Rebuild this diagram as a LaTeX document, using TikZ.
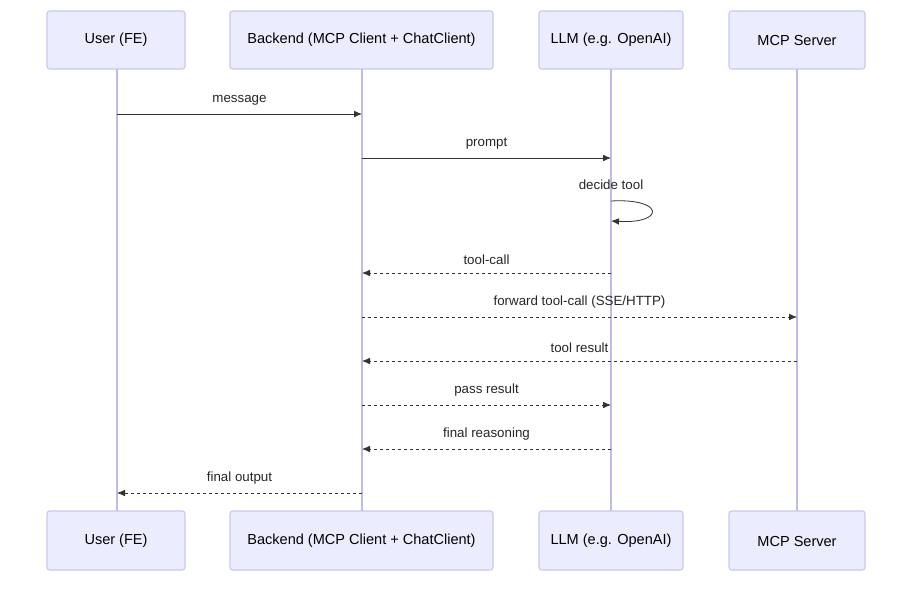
\documentclass[tikz,border=0pt]{standalone}
\usepackage{fontspec}
\setmainfont{Liberation Sans}
\usetikzlibrary{arrows.meta}
\definecolor{boxfill}{HTML}{ECECFF}
\definecolor{boxline}{HTML}{C8C8EE}
\definecolor{life}{HTML}{BDBDEA}
\begin{document}
\begin{tikzpicture}[x=0.75pt,y=-0.75pt,
  actor/.style={draw=boxline,fill=boxfill,rounded corners=2pt,line width=0.8pt},
  afont/.style={font=\fontsize{10.9}{13}\selectfont},
  msg/.style={-{Latex[length=6pt,width=5pt]},line width=0.6pt,black!80},
  dmsg/.style={msg,dash pattern=on 2.5pt off 2pt},
  lbl/.style={font=\fontsize{10}{12}\selectfont,text=black!85},
  lifeline/.style={draw=life,line width=1pt}]
\useasboundingbox[fill=white] (0,0) rectangle (902,608);
\foreach \n/\a/\b/\t in {u/47/185/User (FE),b/230/493/Backend (MCP Client + ChatClient),l/539/683/LLM (e.g. OpenAI),m/729/865/MCP Server}{
  \path[actor] (\a,11) rectangle (\b,69);
  \node[afont] (\n t) at ({(\a+\b)/2},40) {\t};
  \path[actor] (\a,511) rectangle (\b,570);
  \node[afont] (\n b) at ({(\a+\b)/2},541) {\t};
}
\coordinate (U) at (117,0); \coordinate (B) at (362,0); \coordinate (L) at (611,0); \coordinate (M) at (797,0);
\foreach \c in {U,B,L,M}{\draw[lifeline] (\c |- 0,69) -- (\c |- 0,511);}
\draw[msg] (U |- 0,114) -- (B |- 0,114) node[lbl,midway,above=3pt] {message};
\draw[msg] (B |- 0,158) -- (L |- 0,158) node[lbl,midway,above=3pt] {prompt};
\node[lbl] (dt) at (611,185) {decide tool};
\draw[msg] (611,201) .. controls (665,198) and (665,224) .. (611,221);
\draw[dmsg] (L |- 0,273) -- (B |- 0,273) node[lbl,midway,above=3pt] {tool-call};
\draw[dmsg] (B |- 0,317) -- (M |- 0,317) node[lbl,midway,above=3pt] {forward tool-call (SSE/HTTP)};
\draw[dmsg] (M |- 0,361) -- (B |- 0,361) node[lbl,midway,above=3pt] {tool result};
\draw[dmsg] (B |- 0,405) -- (L |- 0,405) node[lbl,midway,above=3pt] {pass result};
\draw[dmsg] (L |- 0,449) -- (B |- 0,449) node[lbl,midway,above=3pt] {final reasoning};
\draw[dmsg] (B |- 0,493) -- (U |- 0,493) node[lbl,midway,above=3pt] {final output};
\end{tikzpicture}
\end{document}
